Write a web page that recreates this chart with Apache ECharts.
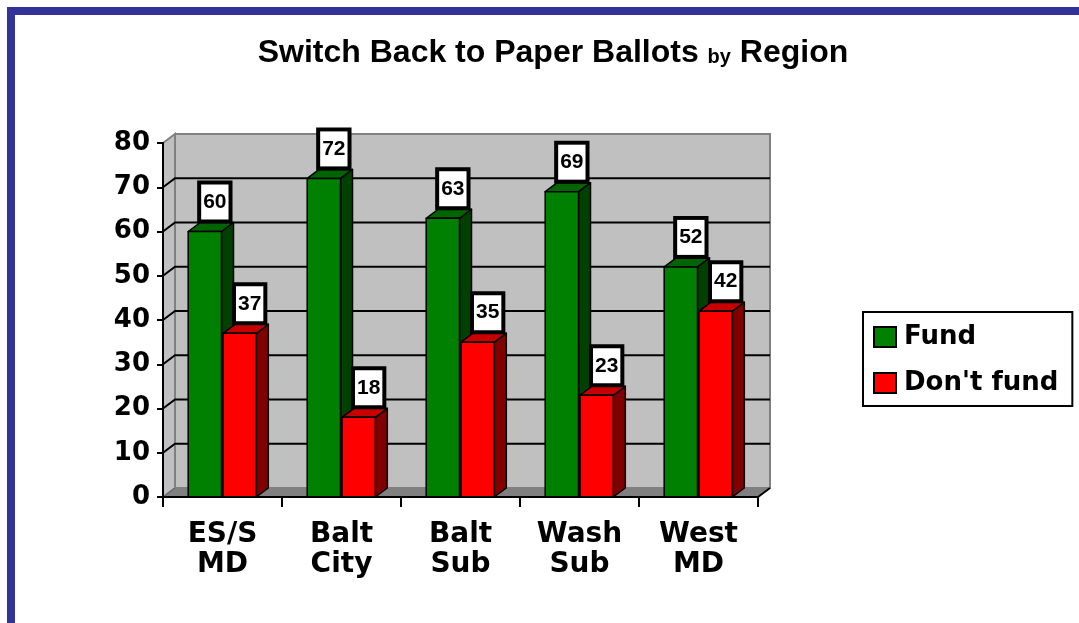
<!DOCTYPE html>
<html>
<head>
<meta charset="utf-8">
<script src="https://cdn.jsdelivr.net/npm/echarts@6/dist/echarts.min.js"></script>
<style>
  html, body { margin: 0; padding: 0; background: #fff; }
  #wrap { position: relative; width: 1079px; height: 623px; overflow: hidden; }
  #frame { position: absolute; left: 7px; top: 7px; right: -20px; bottom: -20px;
           border-left: 8px solid #333399; border-top: 8px solid #333399; }
  #chart { position: absolute; left: 0; top: 0; width: 1079px; height: 623px; }
</style>
</head>
<body>
<div id="wrap">
  <div id="frame"></div>
  <div id="chart"></div>
</div>
<script>
const categories = ['ES/S\nMD', 'Balt\nCity', 'Balt\nSub', 'Wash\nSub', 'West\nMD']
const fund = [60, 72, 63, 69, 52]
const dontFund = [37, 18, 35, 23, 42]
const yTicks = [10, 20, 30, 40, 50, 60, 70]

// 3d depth offset
const DX = 12
const DY = -9

const chart = echarts.init(document.getElementById('chart'))

function wallItem(params, api) {
  const cs = params.coordSys
  const x0 = cs.x, x1 = cs.x + cs.width
  const yTop = cs.y, yBot = cs.y + cs.height
  const children = [
    // left side wall
    { type: 'polygon', shape: { points: [[x0, yTop], [x0 + DX, yTop + DY], [x0 + DX, yBot + DY], [x0, yBot]] },
      style: { fill: '#c0c0c0', stroke: '#808080', lineWidth: 2 } },
    // back wall
    { type: 'rect', shape: { x: x0 + DX, y: yTop + DY, width: cs.width, height: cs.height } ,
      style: { fill: '#c0c0c0', stroke: '#808080', lineWidth: 2 } },
    // floor
    { type: 'polygon', shape: { points: [[x0, yBot], [x1, yBot], [x1 + DX, yBot + DY], [x0 + DX, yBot + DY]] },
      style: { fill: '#808080', stroke: '#808080', lineWidth: 1 } },
    { type: 'line', shape: { x1: x0, y1: yBot, x2: x0 + DX, y2: yBot + DY },
      style: { stroke: '#606060', lineWidth: 1 } },
    { type: 'line', shape: { x1: x1, y1: yBot, x2: x1 + DX, y2: yBot + DY },
      style: { stroke: '#000', lineWidth: 2 } }
  ]
  yTicks.forEach(v => {
    const y = api.coord([0, v])[1]
    children.push({ type: 'polyline', shape: { points: [[x0, y], [x0 + DX, y + DY], [x1 + DX, y + DY]] },
      style: { stroke: '#000', lineWidth: 2, fill: null } })
  })
  return { type: 'group', children: children }
}

function barRenderer(which, front, top, side) {
  return function (params, api) {
    const idx = api.value(0)
    const v = api.value(1)
    const p0 = api.coord([idx, 0])
    const p1 = api.coord([idx, v])
    const w = api.size([1, 0])[0] * 0.28
    const x0 = which === 0 ? p0[0] - w - 1 : p0[0] + 0.5
    const x1 = x0 + w
    const yb = p0[1], yt = p1[1]
    const line = { stroke: '#000', lineWidth: 1.5, lineJoin: 'round' }
    return {
      type: 'group',
      children: [
        { type: 'polygon', shape: { points: [[x1, yt], [x1 + DX, yt + DY], [x1 + DX, yb + DY], [x1, yb]] },
          style: Object.assign({ fill: side }, line) },
        { type: 'polygon', shape: { points: [[x0, yt], [x1, yt], [x1 + DX, yt + DY], [x0 + DX, yt + DY]] },
          style: Object.assign({ fill: top }, line) },
        { type: 'rect', shape: { x: x0, y: yt, width: w, height: yb - yt },
          style: Object.assign({ fill: front }, line) },
        { type: 'text', x: (x0 + x1) / 2 + 10, y: yt - 12,
          style: {
            text: String(v), fill: '#000',
            fontFamily: '"Liberation Sans", Arial, sans-serif',
            fontWeight: 'bold', fontSize: 21,
            align: 'center', verticalAlign: 'bottom',
            backgroundColor: '#fff', borderColor: '#000', borderWidth: 4,
            padding: [7, 2], lineHeight: 21
          } }
      ]
    }
  }
}

const option = {
  animation: false,
  title: {
    text: '{a|Switch Back to Paper Ballots }{b|by}{a| Region}',
    left: 548,
    top: 30,
    textAlign: 'center',
    textStyle: {
      rich: {
        a: { fontFamily: '"Liberation Sans", Arial, sans-serif', fontWeight: 'bold', fontSize: 32, color: '#000', verticalAlign: 'bottom', lineHeight: 34 },
        b: { fontFamily: '"Liberation Sans", Arial, sans-serif', fontWeight: 'bold', fontSize: 20, color: '#000', verticalAlign: 'bottom', lineHeight: 34, padding: [0, 0, 2, 0] }
      }
    }
  },
  legend: {
    orient: 'vertical',
    left: 863,
    top: 312,
    padding: [12, 14, 10, 10],
    borderColor: '#000',
    borderWidth: 2,
    backgroundColor: '#fff',
    itemWidth: 22,
    itemHeight: 20,
    itemGap: 20,
    itemStyle: { borderColor: '#000', borderWidth: 2 },
    textStyle: { fontFamily: '"DejaVu Sans"', fontWeight: 'bold', fontSize: 26, color: '#000', lineHeight: 26, padding: [0, 0, 0, 3] },
    data: [{ name: 'Fund', icon: 'rect' }, { name: "Don't fund", icon: 'rect' }]
  },
  grid: { left: 163, top: 143, width: 595, height: 354 },
  xAxis: {
    type: 'category',
    data: categories,
    z: 5,
    axisLine: { lineStyle: { color: '#000', width: 2 } },
    axisTick: { show: true, length: 10, lineStyle: { color: '#000', width: 2 } },
    axisLabel: { margin: 23, color: '#000', fontFamily: '"DejaVu Sans"', fontWeight: 'bold', fontSize: 28, lineHeight: 30 }
  },
  yAxis: {
    type: 'value',
    min: 0,
    max: 80,
    interval: 10,
    z: 5,
    splitLine: { show: false },
    axisLine: { show: true, lineStyle: { color: '#000', width: 2 } },
    axisTick: { show: true, length: 6, lineStyle: { color: '#000', width: 2 } },
    axisLabel: { margin: 13, color: '#000', fontFamily: '"DejaVu Sans"', fontWeight: 'bold', fontSize: 26 }
  },
  series: [
    {
      type: 'custom',
      name: 'wall',
      z: 1,
      silent: true,
      renderItem: wallItem,
      data: [[0, 0]]
    },
    {
      type: 'custom',
      name: 'Fund',
      z: 2,
      itemStyle: { color: '#008000' },
      renderItem: barRenderer(0, '#008000', '#006400', '#004000'),
      encode: { x: 0, y: 1 },
      data: fund.map((v, i) => [i, v])
    },
    {
      type: 'custom',
      name: "Don't fund",
      z: 3,
      itemStyle: { color: '#ff0000' },
      renderItem: barRenderer(1, '#ff0000', '#c80000', '#800000'),
      encode: { x: 0, y: 1 },
      data: dontFund.map((v, i) => [i, v])
    }
  ]
}
chart.setOption(option)
</script>
</body>
</html>
